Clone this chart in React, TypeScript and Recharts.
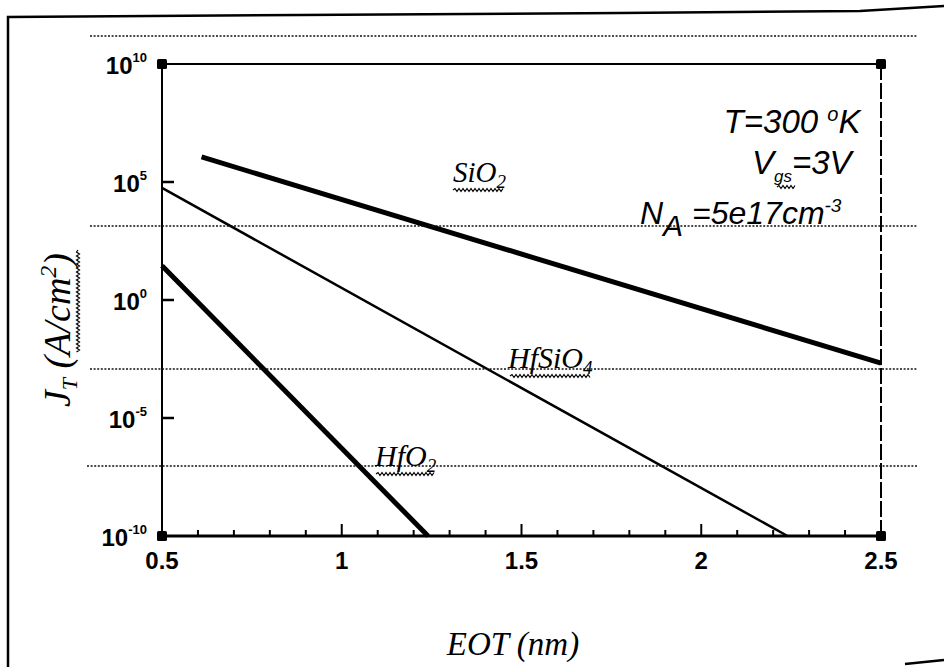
import { ComposedChart, Line, Scatter, XAxis, YAxis } from 'recharts';

// EOT (nm) vs tunnelling current density
const sio2 = [
  { x: 0.61, y: 1.15e6 },
  { x: 2.5, y: 2.1e-3 },
];
const hfsio4 = [
  { x: 0.5, y: 5.6e4 },
  { x: 2.24, y: 1e-10 },
];
const hfo2 = [
  { x: 0.5, y: 2.8e1 },
  { x: 1.24, y: 1e-10 },
];
const corners = [
  { x: 0.5, y: 1e10 },
  { x: 2.5, y: 1e10 },
  { x: 0.5, y: 1e-10 },
  { x: 2.5, y: 1e-10 },
];

const xTicks = [0.5, 0.6, 0.7, 0.8, 0.9, 1, 1.1, 1.2, 1.3, 1.4, 1.5, 1.6, 1.7, 1.8, 1.9, 2, 2.1, 2.2, 2.3, 2.4, 2.5];
const yTicks = [1e-10, 1e-5, 1, 1e5, 1e10];

const sans = '"Liberation Sans", Arial, sans-serif';
const serif = '"Liberation Serif", "Times New Roman", serif';

const isMajor = (v: number) => Math.abs(v * 2 - Math.round(v * 2)) < 1e-6;
const isEnd = (v: number) => v === 0.5 || v === 2.5;

function BottomTick(props: any) {
  const { x, y, payload } = props;
  const v = payload.value;
  return (
    <g>
      {!isEnd(v) && (
        <line x1={x} y1={y} x2={x} y2={y - (isMajor(v) ? 12 : 6)} stroke="#000" strokeWidth={2} />
      )}
      {isMajor(v) && (
        <text x={x} y={y + 33} textAnchor="middle" fontFamily={sans} fontWeight="bold" fontSize={24} fill="#000">
          {String(v)}
        </text>
      )}
    </g>
  );
}

function TopTick(props: any) {
  const { x, y, payload } = props;
  const v = payload.value;
  if (isEnd(v)) return <g />;
  return <line x1={x} y1={y} x2={x} y2={y + (isMajor(v) ? 11 : 6)} stroke="#000" strokeWidth={2} />;
}

function LeftTick(props: any) {
  const { x, y, payload } = props;
  const v = payload.value;
  const exp = Math.round(Math.log10(v));
  const end = exp === 10 || exp === -10;
  return (
    <g>
      {!end && <line x1={x} y1={y} x2={x + 12} y2={y} stroke="#000" strokeWidth={2.5} />}
      <text x={x - 15} y={y + 10} textAnchor="end" fontFamily={sans} fontWeight="bold" fontSize={24} fill="#000">
        <tspan>10</tspan>
        <tspan dy={-12} fontSize={13}>{String(exp)}</tspan>
      </text>
    </g>
  );
}

function RightTick(props: any) {
  const { x, y, payload } = props;
  const exp = Math.round(Math.log10(payload.value));
  if (exp === 10 || exp === -10) return <g />;
  return <line x1={x} y1={y} x2={x - 11} y2={y} stroke="#000" strokeWidth={2.5} />;
}

function Corner(props: any) {
  const { cx, cy } = props;
  return <rect x={cx - 5} y={cy - 5} width={10} height={10} rx={1.5} fill="#000" />;
}

// squiggly "spell check" underline
function wavy(x0: number, x1: number, y: number) {
  let d = `M ${x0} ${y}`;
  let up = true;
  for (let x = x0 + 2; x <= x1; x += 2) {
    d += ` L ${x} ${y + (up ? -1.5 : 1.5)}`;
    up = !up;
  }
  return d;
}

function wavyV(y0: number, y1: number, x: number) {
  let d = `M ${x} ${y0}`;
  let up = true;
  for (let y = y0 + 2; y <= y1; y += 2) {
    d += ` L ${x + (up ? -1.5 : 1.5)} ${y}`;
    up = !up;
  }
  return d;
}

export default function App() {
  return (
    <div style={{ position: 'absolute', left: 0, top: 0, width: 944, height: 667, background: '#fff' }}>
      <ComposedChart width={944} height={667} margin={{ top: 54, right: 43, bottom: 101, left: 102 }}>
        <XAxis
          xAxisId="bottom"
          dataKey="x"
          type="number"
          domain={[0.5, 2.5]}
          ticks={xTicks}
          interval={0}
          height={30}
          tickSize={0}
          tickMargin={0}
          tickLine={false}
          axisLine={{ stroke: '#000', strokeWidth: 3 }}
          tick={<BottomTick />}
        />
        <XAxis
          xAxisId="top"
          orientation="top"
          dataKey="x"
          type="number"
          domain={[0.5, 2.5]}
          ticks={xTicks}
          interval={0}
          height={10}
          tickSize={0}
          tickMargin={0}
          tickLine={false}
          axisLine={{ stroke: '#000', strokeWidth: 2 }}
          tick={<TopTick />}
        />
        <YAxis
          yAxisId="left"
          type="number"
          scale="log"
          domain={[1e-10, 1e10]}
          ticks={yTicks}
          interval={0}
          width={60}
          tickSize={0}
          tickMargin={0}
          tickLine={false}
          axisLine={{ stroke: '#000', strokeWidth: 2 }}
          tick={<LeftTick />}
        />
        <YAxis
          yAxisId="right"
          orientation="right"
          type="number"
          scale="log"
          domain={[1e-10, 1e10]}
          ticks={yTicks}
          interval={0}
          width={20}
          tickSize={0}
          tickMargin={0}
          tickLine={false}
          axisLine={{ stroke: '#000', strokeWidth: 2, strokeDasharray: '16 3' }}
          tick={<RightTick />}
        />
        <Line
          data={sio2}
          xAxisId="bottom"
          yAxisId="left"
          dataKey="y"
          stroke="#000"
          strokeWidth={5}
          strokeLinecap="butt"
          dot={false}
          isAnimationActive={false}
        />
        <Line
          data={hfsio4}
          xAxisId="bottom"
          yAxisId="left"
          dataKey="y"
          stroke="#000"
          strokeWidth={2.5}
          dot={false}
          isAnimationActive={false}
        />
        <Line
          data={hfo2}
          xAxisId="bottom"
          yAxisId="left"
          dataKey="y"
          stroke="#000"
          strokeWidth={5}
          strokeLinecap="butt"
          dot={false}
          isAnimationActive={false}
        />
        <Scatter
          data={corners}
          xAxisId="bottom"
          yAxisId="left"
          dataKey="y"
          shape={<Corner />}
          isAnimationActive={false}
        />
      </ComposedChart>

      <svg
        width={944}
        height={667}
        style={{ position: 'absolute', left: 0, top: 0, pointerEvents: 'none' }}
      >
        {/* page frame */}
        <polyline points="8,667 8,17 300,15 620,13 860,11 944,6" fill="none" stroke="#000" strokeWidth={2.5} />
        <line x1={905} y1={664} x2={944} y2={660} stroke="#000" strokeWidth={2.5} />
        {/* dotted rules from the scan */}
        <g stroke="#111" strokeWidth={1.6} strokeDasharray="2 1.6">
          <line x1={90} y1={36} x2={918} y2={36} />
          <line x1={90} y1={226} x2={918} y2={226} />
          <line x1={90} y1={369} x2={918} y2={369} />
          <line x1={87} y1={466} x2={918} y2={466} />
        </g>

        {/* curve labels */}
        <g fontFamily={serif} fontStyle="italic" fill="#000">
          <text x={453} y={182} fontSize={29}>
            SiO<tspan dy={6} fontSize={19}>2</tspan>
          </text>
          <text x={508} y={368} fontSize={30}>
            HfSiO<tspan dy={6} fontSize={19}>4</tspan>
          </text>
          <text x={375} y={466} fontSize={30}>
            HfO<tspan dy={6} fontSize={19}>2</tspan>
          </text>
        </g>
        <g fill="none" stroke="#000" strokeWidth={1.2}>
          <path d={wavy(453, 503, 190)} />
          <path d={wavy(510, 590, 376)} />
          <path d={wavy(376, 434, 474)} />
          <path d={wavy(777, 795, 187)} />
          <path d={wavyV(250, 352, 78)} />
        </g>

        {/* conditions */}
        <g fontFamily={sans} fontStyle="italic" fill="#000">
          <text x={792} y={133} fontSize={33} textAnchor="middle">
            T=300 <tspan dy={-12} fontSize={20}>o</tspan>
            <tspan dy={12}>K</tspan>
          </text>
          <text x={752} y={174} fontSize={33}>
            V<tspan dy={8} fontSize={17}>gs</tspan>
            <tspan dy={-8}>=3V</tspan>
          </text>
          <text x={640} y={224} fontSize={32}>
            N<tspan dy={12} fontSize={30}>A</tspan>
            <tspan dy={-12}> =5e17cm</tspan>
            <tspan dy={-12} fontSize={19}>-3</tspan>
          </text>
        </g>

        {/* axis titles */}
        <text x={513} y={655} textAnchor="middle" fontFamily={serif} fontStyle="italic" fontSize={33} fill="#000">
          EOT (nm)
        </text>
        <text
          transform="translate(70,330) rotate(-90)"
          textAnchor="middle"
          fontFamily={serif}
          fontStyle="italic"
          fontSize={38}
          fill="#000"
        >
          J<tspan dy={7} fontSize={22}>T</tspan>
          <tspan dy={-7}> (A/cm</tspan>
          <tspan dy={-14} fontSize={24}>2</tspan>
          <tspan dy={14}>)</tspan>
        </text>
      </svg>
    </div>
  );
}
